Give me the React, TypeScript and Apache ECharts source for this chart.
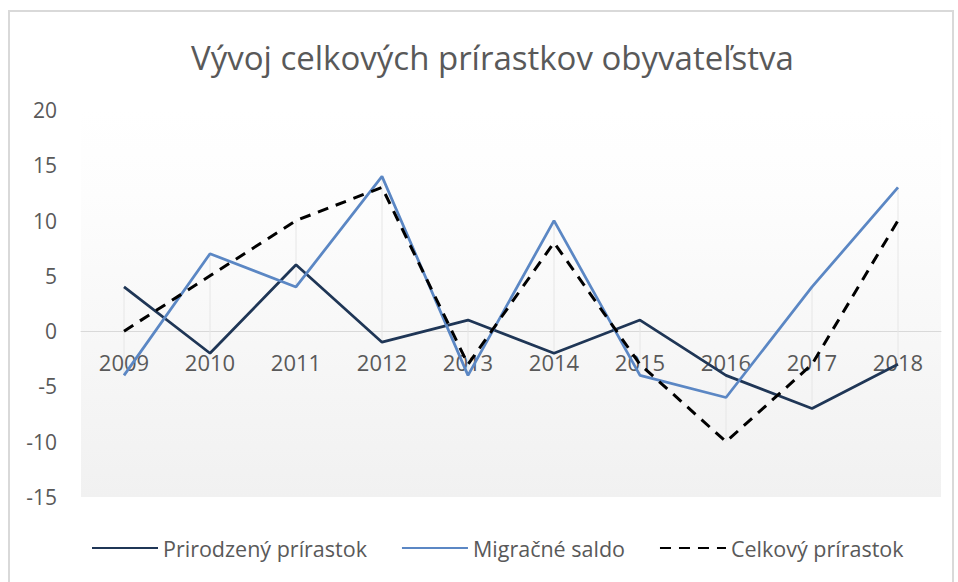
import React, { useEffect, useRef } from "react";
import * as echarts from "echarts";

const categories = ["2009", "2010", "2011", "2012", "2013", "2014", "2015", "2016", "2017", "2018"];
const prirodzeny = [4, -2, 6, -1, 1, -2, 1, -4, -7, -3];
const migracne = [-4, 7, 4, 14, -4, 10, -4, -6, 4, 13];
const celkovy = [0, 5, 10, 13, -3, 8, -3, -10, -3, 10];
const seriesNames = ["Prirodzený prírastok", "Migračné saldo", "Celkový prírastok"];
const titleText = "Vývoj celkových prírastkov obyvateľstva";

const FONT = "'Open Sans', 'DejaVu Sans', sans-serif";
const GRAY = "#595959";

export default function App() {
  const ref = useRef<HTMLDivElement>(null);
  useEffect(() => {
    if (!ref.current) return;
    const chart = echarts.init(ref.current, null, { renderer: "svg" });
    const hiLo = categories.map((_, i) => {
      const vals = [prirodzeny[i], migracne[i], celkovy[i]];
      return [i, Math.max(...vals), Math.min(...vals)];
    });
    chart.setOption({
      animation: false,
      backgroundColor: "#ffffff",
      textStyle: { fontFamily: FONT },
      title: {
        text: titleText,
        left: 186,
        top: 36,
        textStyle: { fontFamily: FONT, fontSize: 33, fontWeight: "normal", color: GRAY },
      },
      graphic: [
        {
          type: "rect",
          shape: { x: 9, y: 11, width: 944, height: 600 },
          style: { fill: "none", stroke: "#d9d9d9", lineWidth: 2 },
          silent: true,
        },
      ],
      legend: {
        data: seriesNames,
        bottom: 18,
        left: 86,
        itemWidth: 66,
        itemHeight: 14,
        itemGap: 34,
        itemStyle: { opacity: 0 },
        textStyle: { fontFamily: FONT, fontSize: 21.5, color: GRAY },
      },
      grid: {
        left: 81,
        right: 17,
        top: 110,
        bottom: 85,
        show: true,
        borderWidth: 0,
        backgroundColor: new echarts.graphic.LinearGradient(0, 0, 0, 1, [
          { offset: 0, color: "#ffffff" },
          { offset: 0.22, color: "#fdfdfd" },
          { offset: 1, color: "#f1f1f1" },
        ]),
      },
      xAxis: {
        type: "category",
        data: categories,
        boundaryGap: true,
        axisLine: { onZero: true, lineStyle: { color: "#d9d9d9", width: 1 } },
        axisTick: { show: false },
        axisLabel: { show: false },
        splitLine: { show: false },
      },
      yAxis: {
        type: "value",
        min: -15,
        max: 20,
        interval: 5,
        axisLine: { show: false },
        axisTick: { show: false },
        splitLine: { show: false },
        axisLabel: { fontFamily: FONT, fontSize: 21, color: GRAY, margin: 24 },
      },
      series: [
        {
          type: "custom",
          name: "hilo",
          z: 1,
          silent: true,
          data: hiLo,
          encode: { x: 0, y: [1, 2] },
          renderItem: (params: any, api: any) => {
            const p1 = api.coord([api.value(0), api.value(1)]);
            const p2 = api.coord([api.value(0), api.value(2)]);
            return {
              type: "line",
              shape: { x1: p1[0], y1: p1[1], x2: p2[0], y2: p2[1] },
              style: { stroke: "#e6e6e6", lineWidth: 1 },
            };
          },
        },
        {
          type: "custom",
          name: "xlabels",
          z: 2,
          silent: true,
          data: categories.map((_, i) => [i, 0]),
          encode: { x: 0, y: 1 },
          renderItem: (params: any, api: any) => {
            const p = api.coord([api.value(0), 0]);
            return {
              type: "text",
              x: p[0],
              y: p[1] + 31,
              style: {
                text: categories[params.dataIndex],
                fill: GRAY,
                fontSize: 22,
                fontFamily: FONT,
                align: "center",
                verticalAlign: "middle",
              },
            };
          },
        },
        {
          name: seriesNames[0],
          type: "line",
          data: prirodzeny,
          symbol: "none",
          z: 3,
          lineStyle: { color: "#1f3656", width: 2.75 },
          itemStyle: { color: "#1f3656" },
        },
        {
          name: seriesNames[1],
          type: "line",
          data: migracne,
          symbol: "none",
          z: 4,
          lineStyle: { color: "#5b87c4", width: 2.75 },
          itemStyle: { color: "#5b87c4" },
        },
        {
          name: seriesNames[2],
          type: "line",
          data: celkovy,
          symbol: "none",
          z: 5,
          lineStyle: { color: "#000000", width: 3, type: [11, 8] },
          itemStyle: { color: "#000000" },
        },
      ],
    });
    return () => chart.dispose();
  }, []);
  return (
    <div
      ref={ref}
      style={{ position: "absolute", left: 0, top: 0, width: 958, height: 582 }}
    />
  );
}
